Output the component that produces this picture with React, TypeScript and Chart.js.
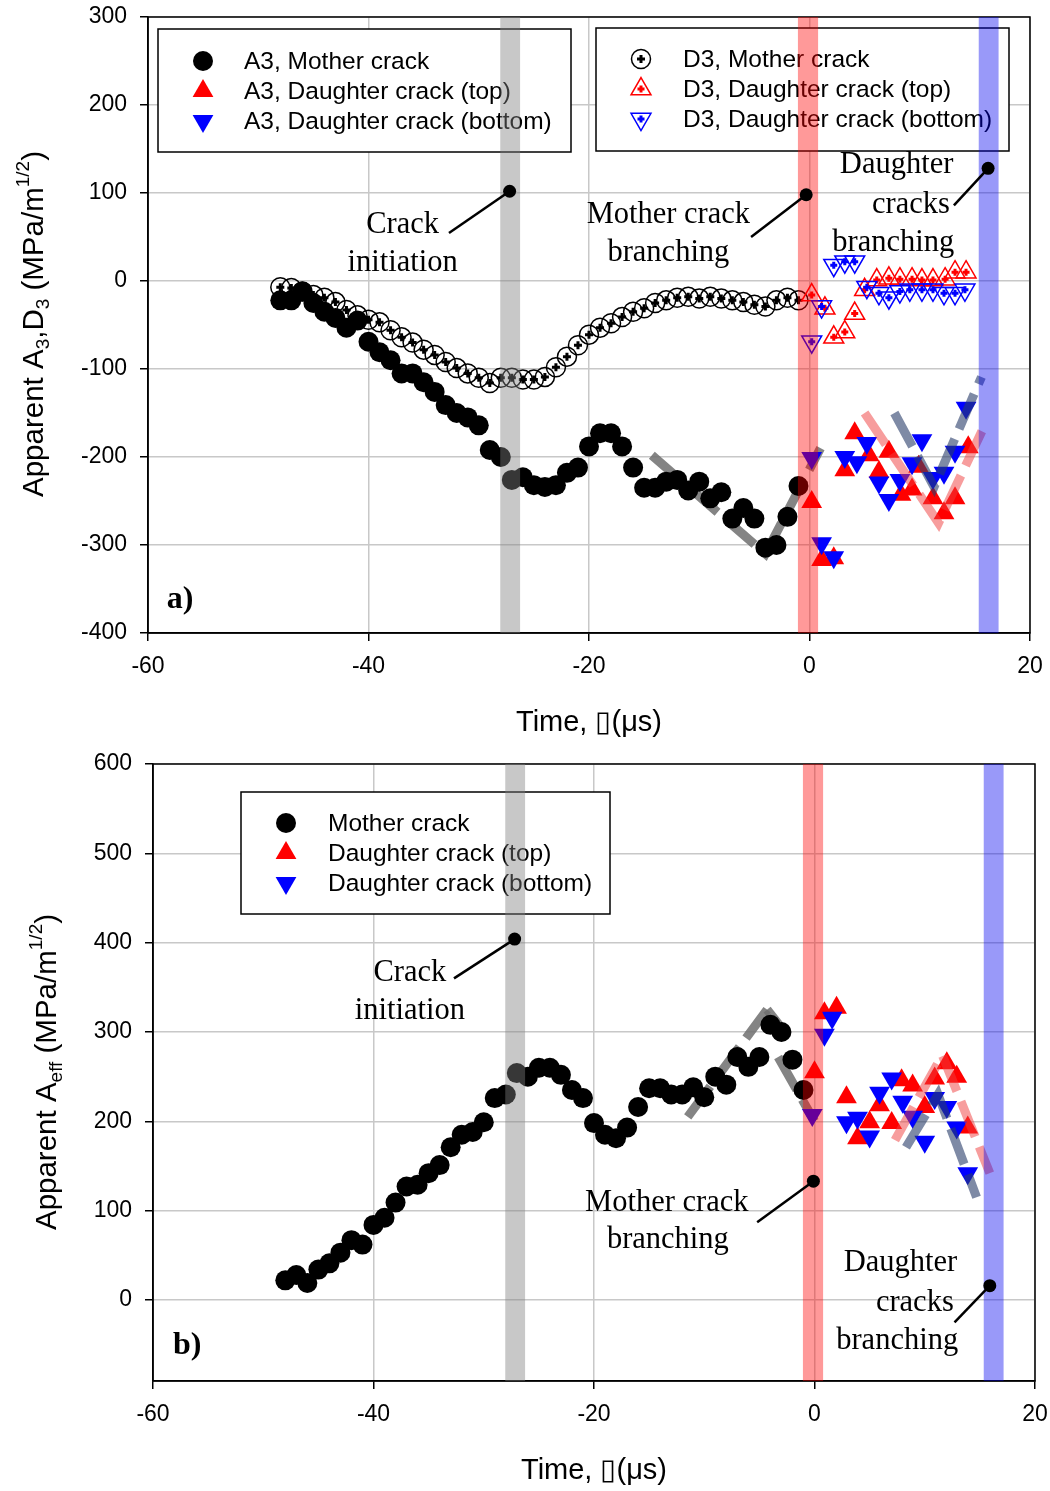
import React, { useEffect, useRef } from "react";
import { Chart, registerables } from "chart.js";

Chart.register(...registerables);

// ---------------- DATA ----------------
const xTicks = [-60, -40, -20, 0, 20];
const yTicksA = [-400, -300, -200, -100, 0, 100, 200, 300];
const yTicksB = [0, 100, 200, 300, 400, 500, 600];

// time of mother crack frames (µs)
const motherTime = [
  -48, -47, -46, -45, -44, -43, -42, -41, -40, -39,
  -38, -37, -36, -35, -34, -33, -32, -31, -30, -29,
  -28, -27, -26, -25, -24, -23, -22, -21, -20, -19,
  -18, -17, -16, -15, -14, -13, -12, -11, -10, -9,
  -8, -7, -6, -5, -4, -3, -2, -1,
];
const a3Mother = [
  -22, -22, -12, -25, -35, -42, -53, -45, -69, -81,
  -90, -105, -105, -115, -126, -141, -150, -155, -164, -192,
  -200, -226, -223, -232, -234, -232, -218, -212, -188, -173,
  -173, -188, -212, -235, -235, -228, -226, -238, -228, -247,
  -240, -270, -258, -270, -303, -300, -268, -233,
];
const d3Mother = [
  -7, -8, -12, -16, -19, -24, -33, -39, -44, -47,
  -56, -64, -70, -78, -84, -92, -99, -105, -110, -116,
  -110, -110, -112, -112, -109, -98, -86, -73, -61, -53,
  -48, -41, -35, -31, -25, -22, -19, -18, -20, -18,
  -20, -22, -24, -27, -29, -22, -19, -22,
];
const a3TopTime = [0.2, 1.1, 2.2, 3.2, 4.1, 5.4, 6.3, 7.2, 8.3, 9.3, 9.9, 11.2, 12.2, 13.2, 14.4];
const a3TopValue = [-251, -317, -315, -215, -173, -198, -217, -194, -243, -237, -211, -247, -264, -247, -189];
const a3BottomTime = [0.2, 1.1, 2.2, 3.2, 4.3, 5.2, 6.3, 7.2, 8.2, 9.3, 10.2, 11.2, 12.2, 13.2, 14.2];
const a3BottomValue = [-201, -298, -314, -200, -206, -184, -229, -249, -226, -207, -181, -224, -218, -194, -144];
const d3TopTime = [0.2, 1.4, 2.2, 3.2, 4.1, 5.0, 6.1, 7.2, 8.2, 9.3, 10.2, 11.2, 12.3, 13.2, 14.2];
const d3TopValue = [-16, -31, -64, -58, -37, -10, 1, 3, 2, 2, 1, 1, 2, 10, 10];
const d3BottomTime = [0.2, 1.1, 2.2, 3.2, 4.1, 5.2, 6.3, 7.2, 8.2, 9.1, 10.2, 11.2, 12.2, 13.2, 14.1];
const d3BottomValue = [-69, -29, 18, 22, 22, -7, -14, -19, -12, -10, -10, -10, -14, -14, -10];

const aEffMother = [
  22, 28, 19, 34, 41, 53, 67, 62, 84, 92,
  109, 127, 129, 142, 151, 171, 185, 188, 199, 226,
  230, 254, 250, 260, 260, 252, 235, 226, 198, 185,
  181, 193, 216, 237, 237, 230, 230, 238, 227, 250,
  241, 272, 261, 272, 308, 300, 269, 235,
];
const effTopTime = [0.0, 0.9, 2.0, 2.9, 3.9, 5.0, 5.9, 7.0, 7.9, 8.9, 10.0, 10.9, 12.0, 12.9, 13.9];
const effTopValue = [255, 321, 327, 227, 181, 199, 218, 198, 246, 240, 216, 248, 265, 250, 193];
const effBottomTime = [-0.2, 0.9, 1.6, 2.9, 3.9, 5.0, 5.9, 7.0, 8.0, 8.9, 10.0, 10.9, 12.0, 12.9, 13.9];
const effBottomValue = [207, 297, 316, 199, 204, 183, 232, 248, 222, 205, 177, 226, 216, 193, 142];

// trend lines (time, value)
const trendAGrayTime = [-14.3, -4.0, 1.0];
const trendAGrayValue = [-198, -310, -190];
const trendAPinkTime = [5.0, 11.7, 16.0];
const trendAPinkValue = [-150, -275, -161];
const trendASlateTime = [7.7, 11.3, 15.6];
const trendASlateValue = [-150, -234, -109];

const trendBGray1Time = [-11.5, -4.3];
const trendBGray1Value = [205, 325];
const trendBGray2Time = [-4.3, -2.7];
const trendBGray2Value = [325, 300];
const trendBGray3Time = [-3.3, 0.0];
const trendBGray3Value = [272, 200];
const trendBPinkTime = [7.3, 11.6, 15.9];
const trendBPinkValue = [179, 274, 142];
const trendBSlateTime = [8.3, 11.2, 14.7];
const trendBSlateValue = [171, 230, 115];

// event bands (time start / end)
const bandStart = [-28.05, -1.05, 15.35];
const bandEnd = [-26.25, 0.78, 17.15];

// ---------------- HELPERS ----------------
const SANS = '"Liberation Sans", Arial, sans-serif';
const SERIF = '"Liberation Serif", "Times New Roman", serif';
const BAND_COLORS = ["rgba(128,128,128,0.43)", "rgba(255,0,0,0.4)", "rgba(0,0,240,0.4)"];

const pts = (xs: number[], ys: number[]) => xs.map((x, i) => ({ x, y: ys[i] }));

function scatter(label: string, data: any[], opts: any) {
  return { type: "scatter", label, data, showLine: false, ...opts };
}
function trend(data: any[], color: string, order: number) {
  return {
    type: "line",
    label: "trend",
    data,
    showLine: true,
    borderColor: color,
    borderWidth: 9,
    borderDash: [38, 11],
    borderCapStyle: "butt",
    pointRadius: 0,
    fill: false,
    tension: 0,
    order,
  };
}

function triPath(ctx: CanvasRenderingContext2D, x: number, y: number, r: number, down: boolean) {
  let a = down ? Math.PI : 0;
  ctx.beginPath();
  for (let i = 0; i < 3; i++) {
    const px = x + Math.sin(a) * r;
    const py = y - Math.cos(a) * r;
    if (i === 0) ctx.moveTo(px, py);
    else ctx.lineTo(px, py);
    a += (2 * Math.PI) / 3;
  }
  ctx.closePath();
}
function crossPath(ctx: CanvasRenderingContext2D, x: number, y: number, r: number) {
  ctx.beginPath();
  ctx.moveTo(x - r, y);
  ctx.lineTo(x + r, y);
  ctx.moveTo(x, y - r);
  ctx.lineTo(x, y + r);
}

function drawMarker(ctx: CanvasRenderingContext2D, kind: string, color: string, x: number, y: number) {
  ctx.save();
  if (kind === "dot") {
    ctx.fillStyle = color;
    ctx.beginPath();
    ctx.arc(x, y, 10, 0, Math.PI * 2);
    ctx.fill();
  } else if (kind === "up" || kind === "down") {
    ctx.fillStyle = color;
    triPath(ctx, x, y, 12, kind === "down");
    ctx.fill();
  } else if (kind === "ocircle") {
    ctx.strokeStyle = color;
    ctx.lineWidth = 1.5;
    ctx.beginPath();
    ctx.arc(x, y, 9.5, 0, Math.PI * 2);
    ctx.stroke();
    ctx.lineWidth = 3;
    crossPath(ctx, x, y, 4);
    ctx.stroke();
  } else if (kind === "oup" || kind === "odown") {
    ctx.strokeStyle = color;
    ctx.lineWidth = 1.5;
    triPath(ctx, x, y, 11.5, kind === "odown");
    ctx.stroke();
    ctx.lineWidth = 3;
    crossPath(ctx, x, y, 3.5);
    ctx.stroke();
  }
  ctx.restore();
}

type Part = { t: string; s?: "sub" | "sup" };
function drawRich(ctx: CanvasRenderingContext2D, parts: Part[], cx: number, cy: number, size: number) {
  const small = Math.round(size * 0.66);
  const fontFor = (p: Part) => `${p.s ? small : size}px ${SANS}`;
  let w = 0;
  for (const p of parts) {
    ctx.font = fontFor(p);
    w += ctx.measureText(p.t).width;
  }
  let x = cx - w / 2;
  const base = cy + size * 0.36;
  ctx.textAlign = "left";
  ctx.textBaseline = "alphabetic";
  for (const p of parts) {
    ctx.font = fontFor(p);
    const dy = p.s === "sub" ? size * 0.22 : p.s === "sup" ? -size * 0.45 : 0;
    ctx.fillText(p.t, x, base + dy);
    x += ctx.measureText(p.t).width;
  }
}

type Legend = {
  box: [number, number, number, number];
  markerX: number;
  textX: number;
  rows: number[];
  items: { kind: string; color: string; label: string }[];
};
type Note = {
  lines: { text: string; x: number; y: number }[];
  from: [number, number];
  to: [number, number];
};
type Overlay = {
  legends: Legend[];
  notes: Note[];
  panel: { text: string; x: number; y: number };
  yTitle: Part[];
  yTitlePos: [number, number];
  xTitle: string;
  xTitleY: number;
};

function overlayPlugin(cfg: Overlay) {
  return {
    id: "overlay",
    afterDraw(chart: any) {
      const ctx: CanvasRenderingContext2D = chart.ctx;
      const ca = chart.chartArea;
      const xs = chart.scales.x;
      const ys = chart.scales.y;
      ctx.save();
      // frame
      ctx.strokeStyle = "#000";
      ctx.lineWidth = 1.5;
      ctx.strokeRect(ca.left, ca.top, ca.right - ca.left, ca.bottom - ca.top);
      // legends
      for (const lg of cfg.legends) {
        const [bx, by, bw, bh] = lg.box;
        ctx.fillStyle = "#fff";
        ctx.fillRect(bx, by, bw, bh);
        ctx.strokeStyle = "#000";
        ctx.lineWidth = 1.5;
        ctx.strokeRect(bx, by, bw, bh);
        lg.items.forEach((it, i) => {
          drawMarker(ctx, it.kind, it.color, lg.markerX, lg.rows[i]);
          ctx.fillStyle = "#000";
          ctx.font = `24.5px ${SANS}`;
          ctx.textAlign = "left";
          ctx.textBaseline = "middle";
          ctx.fillText(it.label, lg.textX, lg.rows[i] + 1);
        });
      }
      // bands
      bandStart.forEach((s, i) => {
        const x0 = xs.getPixelForValue(s);
        const x1 = xs.getPixelForValue(bandEnd[i]);
        ctx.fillStyle = BAND_COLORS[i];
        ctx.fillRect(x0, ca.top, x1 - x0, ca.bottom - ca.top);
      });
      // annotations
      for (const n of cfg.notes) {
        ctx.fillStyle = "#000";
        ctx.font = `30.5px ${SERIF}`;
        ctx.textAlign = "center";
        ctx.textBaseline = "middle";
        for (const l of n.lines) {
          ctx.fillText(l.text, xs.getPixelForValue(l.x), ys.getPixelForValue(l.y));
        }
        const fx = xs.getPixelForValue(n.from[0]);
        const fy = ys.getPixelForValue(n.from[1]);
        const tx = xs.getPixelForValue(n.to[0]);
        const ty = ys.getPixelForValue(n.to[1]);
        ctx.strokeStyle = "#000";
        ctx.lineWidth = 2.5;
        ctx.beginPath();
        ctx.moveTo(fx, fy);
        ctx.lineTo(tx, ty);
        ctx.stroke();
        ctx.beginPath();
        ctx.arc(tx, ty, 6.5, 0, Math.PI * 2);
        ctx.fill();
      }
      // panel label
      ctx.fillStyle = "#000";
      ctx.font = `bold 32px ${SERIF}`;
      ctx.textAlign = "center";
      ctx.textBaseline = "middle";
      ctx.fillText(cfg.panel.text, xs.getPixelForValue(cfg.panel.x), ys.getPixelForValue(cfg.panel.y));
      // axis titles
      ctx.font = `29px ${SANS}`;
      ctx.textAlign = "center";
      ctx.textBaseline = "middle";
      ctx.fillText(cfg.xTitle, (ca.left + ca.right) / 2, cfg.xTitleY);
      ctx.save();
      ctx.translate(cfg.yTitlePos[0], cfg.yTitlePos[1]);
      ctx.rotate(-Math.PI / 2);
      drawRich(ctx, cfg.yTitle, 0, 0, 29.5);
      ctx.restore();
      ctx.restore();
    },
  };
}

function zeroPad(s: any) {
  s.paddingLeft = 0;
  s.paddingRight = 0;
  s.paddingTop = 0;
  s.paddingBottom = 0;
}

function axes(yMin: number, yMax: number, yTicks: number[], yWidth: number, xHeight: number) {
  const grid = { color: "#c8c8c8", lineWidth: 1.5, tickColor: "#000", tickWidth: 1.5, tickLength: 8, drawTicks: true };
  const border = { color: "#000", width: 1.5 };
  return {
    x: {
      type: "linear",
      min: -60,
      max: 20,
      afterBuildTicks: (s: any) => {
        s.ticks = xTicks.map((v) => ({ value: v }));
      },
      afterFit: (s: any) => {
        s.height = xHeight;
        zeroPad(s);
      },
      grid,
      border,
      ticks: { font: { size: 23, family: SANS }, color: "#000", padding: 12, maxRotation: 0, autoSkip: false, callback: (v: any) => String(v) },
    },
    y: {
      type: "linear",
      min: yMin,
      max: yMax,
      afterBuildTicks: (s: any) => {
        s.ticks = yTicks.map((v) => ({ value: v }));
      },
      afterFit: (s: any) => {
        s.width = yWidth;
        zeroPad(s);
      },
      grid,
      border,
      ticks: { font: { size: 23, family: SANS }, color: "#000", padding: 13, autoSkip: false, callback: (v: any) => String(v) },
    },
  };
}

const PINK = "rgba(240,60,60,0.5)";
const SLATE = "rgba(40,60,105,0.6)";
const GRAY = "rgba(110,110,110,0.85)";

function configA() {
  const datasets: any[] = [
    trend(pts(trendAPinkTime, trendAPinkValue), PINK, 0),
    trend(pts(trendASlateTime, trendASlateValue), SLATE, 0),
    scatter("A3, Daughter crack (bottom)", pts(a3BottomTime, a3BottomValue), {
      pointStyle: "triangle", rotation: 180, radius: 12, backgroundColor: "#0000ff", borderWidth: 0, order: 1,
    }),
    scatter("A3, Daughter crack (top)", pts(a3TopTime, a3TopValue), {
      pointStyle: "triangle", radius: 12, backgroundColor: "#ff0000", borderWidth: 0, order: 2,
    }),
    scatter("D3 bottom cross", pts(d3BottomTime, d3BottomValue), {
      pointStyle: "cross", radius: 3.5, borderColor: "#0000ff", borderWidth: 3, order: 3,
    }),
    scatter("D3, Daughter crack (bottom)", pts(d3BottomTime, d3BottomValue), {
      pointStyle: "triangle", rotation: 180, radius: 11.5, backgroundColor: "rgba(0,0,0,0)", borderColor: "#0000ff", borderWidth: 1.5, order: 3,
    }),
    scatter("D3 top cross", pts(d3TopTime, d3TopValue), {
      pointStyle: "cross", radius: 3.5, borderColor: "#ff0000", borderWidth: 3, order: 4,
    }),
    scatter("D3, Daughter crack (top)", pts(d3TopTime, d3TopValue), {
      pointStyle: "triangle", radius: 11.5, backgroundColor: "rgba(0,0,0,0)", borderColor: "#ff0000", borderWidth: 1.5, order: 4,
    }),
    scatter("D3 mother cross", pts(motherTime, d3Mother), {
      pointStyle: "cross", radius: 4, borderColor: "#000", borderWidth: 3, order: 5,
    }),
    scatter("D3, Mother crack", pts(motherTime, d3Mother), {
      pointStyle: "circle", radius: 9.5, backgroundColor: "rgba(0,0,0,0)", borderColor: "#000", borderWidth: 1.5, order: 5,
    }),
    scatter("A3, Mother crack", pts(motherTime, a3Mother), {
      pointStyle: "circle", radius: 10, backgroundColor: "#000", borderWidth: 0, order: 6,
    }),
    trend(pts(trendAGrayTime, trendAGrayValue), GRAY, 7),
  ];
  const overlay: Overlay = {
    legends: [
      {
        box: [158, 29, 413, 123], markerX: 203, textX: 244, rows: [61, 91, 121],
        items: [
          { kind: "dot", color: "#000", label: "A3, Mother crack" },
          { kind: "up", color: "#ff0000", label: "A3, Daughter crack (top)" },
          { kind: "down", color: "#0000ff", label: "A3, Daughter crack (bottom)" },
        ],
      },
      {
        box: [596, 28, 413, 123], markerX: 641, textX: 683, rows: [59, 89, 119],
        items: [
          { kind: "ocircle", color: "#000", label: "D3, Mother crack" },
          { kind: "oup", color: "#ff0000", label: "D3, Daughter crack (top)" },
          { kind: "odown", color: "#0000ff", label: "D3, Daughter crack (bottom)" },
        ],
      },
    ],
    notes: [
      { lines: [{ text: "Crack", x: -36.9, y: 64 }, { text: "initiation", x: -36.9, y: 20.5 }], from: [-32.7, 54.5], to: [-27.2, 102] },
      { lines: [{ text: "Mother crack", x: -12.8, y: 75 }, { text: "branching", x: -12.8, y: 32 }], from: [-5.3, 50], to: [-0.3, 98] },
      { lines: [{ text: "Daughter", x: 7.9, y: 132 }, { text: "cracks", x: 9.2, y: 86 }, { text: "branching", x: 7.6, y: 43 }], from: [13.1, 86], to: [16.2, 128] },
    ],
    panel: { text: "a)", x: -57.1, y: -362 },
    yTitle: [
      { t: "Apparent A" }, { t: "3", s: "sub" }, { t: ",D" }, { t: "3", s: "sub" }, { t: " (MPa/m" }, { t: "1/2", s: "sup" }, { t: ")" },
    ],
    yTitlePos: [32, 324],
    xTitle: "Time, \u25AF(\u03BCs)",
    xTitleY: 723,
  };
  return {
    type: "scatter",
    data: { datasets },
    options: {
      responsive: false,
      animation: false,
      devicePixelRatio: 1,
      layout: { padding: { left: 0, right: 20, top: 17, bottom: 0 } },
      plugins: { legend: { display: false }, tooltip: { enabled: false } },
      scales: axes(-400, 300, yTicksA, 148, 112),
    },
    plugins: [overlayPlugin(overlay)],
  };
}

function configB() {
  const datasets: any[] = [
    trend(pts(trendBPinkTime, trendBPinkValue), PINK, 0),
    trend(pts(trendBSlateTime, trendBSlateValue), SLATE, 0),
    scatter("Daughter crack (bottom)", pts(effBottomTime, effBottomValue), {
      pointStyle: "triangle", rotation: 180, radius: 12, backgroundColor: "#0000ff", borderWidth: 0, order: 1,
    }),
    scatter("Daughter crack (top)", pts(effTopTime, effTopValue), {
      pointStyle: "triangle", radius: 12, backgroundColor: "#ff0000", borderWidth: 0, order: 2,
    }),
    scatter("Mother crack", pts(motherTime, aEffMother), {
      pointStyle: "circle", radius: 10, backgroundColor: "#000", borderWidth: 0, order: 6,
    }),
    trend(pts(trendBGray1Time, trendBGray1Value), GRAY, 7),
    trend(pts(trendBGray2Time, trendBGray2Value), GRAY, 7),
    trend(pts(trendBGray3Time, trendBGray3Value), GRAY, 7),
  ];
  const overlay: Overlay = {
    legends: [
      {
        box: [241, 47, 369, 122], markerX: 286, textX: 328, rows: [78, 108, 138],
        items: [
          { kind: "dot", color: "#000", label: "Mother crack" },
          { kind: "up", color: "#ff0000", label: "Daughter crack (top)" },
          { kind: "down", color: "#0000ff", label: "Daughter crack (bottom)" },
        ],
      },
    ],
    notes: [
      { lines: [{ text: "Crack", x: -36.7, y: 366 }, { text: "initiation", x: -36.7, y: 324 }], from: [-32.7, 360], to: [-27.2, 404] },
      { lines: [{ text: "Mother crack", x: -13.4, y: 109 }, { text: "branching", x: -13.3, y: 67 }], from: [-5.2, 87], to: [-0.1, 133] },
      { lines: [{ text: "Daughter", x: 7.8, y: 41 }, { text: "cracks", x: 9.1, y: -3 }, { text: "branching", x: 7.5, y: -46 }], from: [12.7, -25], to: [15.9, 16] },
    ],
    panel: { text: "b)", x: -56.9, y: -51.5 },
    yTitle: [{ t: "Apparent A" }, { t: "eff", s: "sub" }, { t: " (MPa/m" }, { t: "1/2", s: "sup" }, { t: ")" }],
    yTitlePos: [45, 327],
    xTitle: "Time, \u25AF(\u03BCs)",
    xTitleY: 726,
  };
  return {
    type: "scatter",
    data: { datasets },
    options: {
      responsive: false,
      animation: false,
      devicePixelRatio: 1,
      layout: { padding: { left: 0, right: 15, top: 19, bottom: 0 } },
      plugins: { legend: { display: false }, tooltip: { enabled: false } },
      scales: axes(-90.7, 600, yTicksB, 153, 110),
    },
    plugins: [overlayPlugin(overlay)],
  };
}

function Panel({ make, top, height }: { make: () => any; top: number; height: number }) {
  const ref = useRef<HTMLCanvasElement>(null);
  useEffect(() => {
    const chart = new Chart(ref.current as HTMLCanvasElement, make());
    return () => chart.destroy();
  }, []);
  return (
    <canvas
      ref={ref}
      width={1050}
      height={height}
      style={{ position: "absolute", left: 0, top, width: 1050, height, display: "block" }}
    />
  );
}

export default function App() {
  return (
    <div style={{ position: "absolute", left: 0, top: 0, width: 1050, height: 1491, background: "#fff" }}>
      <Panel make={configA} top={0} height={745} />
      <Panel make={configB} top={745} height={746} />
    </div>
  );
}
